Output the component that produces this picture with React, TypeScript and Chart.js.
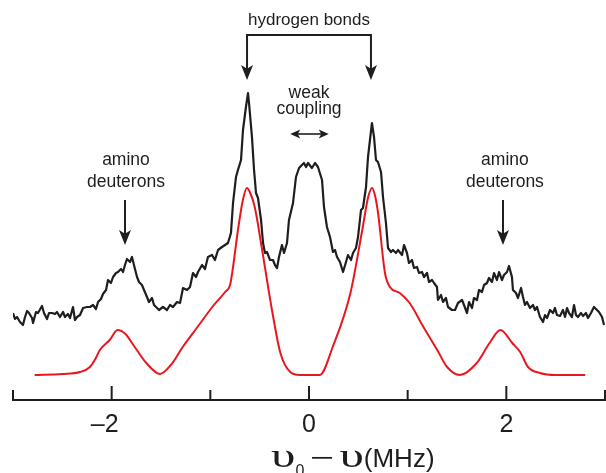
import React, { useEffect, useRef } from "react";
import { Chart, registerables } from "chart.js";

Chart.register(...registerables);

// ---- data (x in MHz, intensity in arbitrary units) ----
const blackX = [
  -3.0, -2.98, -2.959, -2.929, -2.899, -2.878, -2.858, -2.838, -2.807, -2.797, -2.767, -2.747, -2.706, -2.686,
  -2.655, -2.635, -2.605, -2.574, -2.554, -2.524, -2.493, -2.473, -2.443, -2.422, -2.392, -2.372, -2.351, -2.321,
  -2.29, -2.25, -2.22, -2.189, -2.159, -2.138, -2.108, -2.088, -2.057, -2.037, -2.007, -1.986, -1.956, -1.936,
  -1.905, -1.885, -1.865, -1.845, -1.814, -1.794, -1.774, -1.743, -1.723, -1.693, -1.672, -1.642, -1.622, -1.591,
  -1.571, -1.54, -1.52, -1.48, -1.439, -1.409, -1.378, -1.338, -1.307, -1.277, -1.236, -1.206, -1.176, -1.145,
  -1.125, -1.084, -1.054, -1.024, -0.983, -0.953, -0.922, -0.882, -0.851, -0.821, -0.791, -0.77, -0.74, -0.72,
  -0.689, -0.669, -0.639, -0.618, -0.608, -0.578, -0.557, -0.537, -0.517, -0.486, -0.466, -0.446, -0.426, -0.395,
  -0.365, -0.345, -0.324, -0.304, -0.274, -0.253, -0.223, -0.203, -0.162, -0.132, -0.101, -0.071, -0.051, -0.03,
  -0.01, 0.03, 0.061, 0.091, 0.132, 0.152, 0.182, 0.213, 0.243, 0.264, 0.284, 0.314, 0.345, 0.375, 0.395, 0.426,
  0.446, 0.476, 0.497, 0.527, 0.547, 0.578, 0.598, 0.638, 0.659, 0.679, 0.699, 0.73, 0.75, 0.78, 0.801, 0.831,
  0.851, 0.882, 0.902, 0.943, 0.963, 0.993, 1.013, 1.044, 1.064, 1.095, 1.115, 1.145, 1.166, 1.196, 1.216, 1.247,
  1.267, 1.297, 1.307, 1.338, 1.358, 1.388, 1.409, 1.449, 1.48, 1.51, 1.551, 1.571, 1.601, 1.622, 1.652, 1.672,
  1.703, 1.723, 1.753, 1.774, 1.804, 1.824, 1.855, 1.875, 1.905, 1.926, 1.956, 1.976, 2.007, 2.027, 2.057, 2.067,
  2.098, 2.118, 2.149, 2.169, 2.189, 2.209, 2.24, 2.27, 2.29, 2.311, 2.341, 2.372, 2.392, 2.412, 2.443, 2.473,
  2.493, 2.513, 2.544, 2.574, 2.595, 2.615, 2.635, 2.665, 2.686, 2.706, 2.726, 2.757, 2.777, 2.807, 2.828, 2.858,
  2.888, 2.919, 2.939, 2.97, 2.99,
];
const blackY = [
  87, 81, 83, 78, 75, 83, 89, 87, 82, 77, 88, 87, 94, 87,
  81, 87, 87, 86, 88, 83, 88, 83, 86, 82, 93, 80, 83, 85,
  92, 93, 93, 95, 91, 98, 101, 106, 110, 120, 117, 123, 127, 128,
  131, 128, 135, 141, 138, 143, 135, 123, 118, 115, 110, 103, 98, 102,
  95, 92, 90, 93, 90, 95, 93, 98, 97, 112, 110, 113, 127, 123,
  128, 135, 131, 143, 145, 140, 150, 153, 155, 157, 167, 197, 223, 230,
  240, 270, 293, 307, 297, 263, 230, 207, 202, 180, 157, 147, 148, 140,
  140, 135, 132, 143, 155, 147, 157, 180, 197, 223, 232, 235, 237, 233,
  237, 232, 237, 233, 220, 193, 173, 163, 148, 150, 143, 138, 128, 138, 145, 140,
  147, 152, 163, 190, 192, 213, 243, 277, 263, 240, 238, 228, 203, 177, 152, 148,
  150, 147, 150, 145, 155, 147, 137, 140, 132, 133, 127, 128, 123, 127, 118, 120,
  117, 113, 100, 105, 98, 102, 93, 90, 90, 97, 100, 95, 87, 98, 92, 102,
  100, 110, 108, 115, 117, 122, 118, 127, 120, 128, 120, 125, 128, 134, 123, 110,
  107, 102, 112, 103, 95, 98, 92, 95, 90, 93, 83, 78, 85, 82, 90, 87,
  92, 85, 84, 90, 83, 92, 87, 83, 95, 85, 83, 87, 84, 87, 82, 87,
  93, 90, 88, 83, 75,
];

const redX = [
  -2.78, -2.5, -2.32, -2.22, -2.16, -2.12, -2.02, -1.94, -1.86, -1.78, -1.64, -1.51, -1.4, -1.28, -1.13, -0.98,
  -0.85, -0.8, -0.77, -0.72, -0.67, -0.63, -0.6, -0.55, -0.47, -0.37, -0.29, -0.19, -0.09, 0.11, 0.24, 0.42,
  0.54, 0.6, 0.64, 0.67, 0.7, 0.77, 0.82, 0.92, 1.02, 1.16, 1.3, 1.4, 1.53, 1.7, 1.83, 1.94, 2.06, 2.14,
  2.22, 2.34, 2.5, 2.8,
];
const redY = [
  25, 26, 28, 33, 42, 50, 60, 70, 66, 55, 36, 26, 35, 53, 73, 93,
  108, 115, 133, 170, 200, 212, 208, 193, 147, 87, 47, 28, 25, 25, 53, 107,
  170, 203, 212, 204, 187, 127, 113, 107, 97, 73, 50, 33, 25, 37, 57, 70, 57, 48,
  33, 27, 25, 25,
];

const MAJOR_TICKS = [-2, 0, 2];
const MINOR_TICKS = [-3, -1, 1, 3];
const TICK_LABELS = ["\u20132", "0", "2"];

const SANS = "'Liberation Sans', Arial, sans-serif";
const SERIF = "'Liberation Serif', 'Times New Roman', serif";
const INK = "#1e1e1e";

function arrowHead(ctx: CanvasRenderingContext2D, tx: number, ty: number, angle: number, len: number, half: number) {
  ctx.save();
  ctx.translate(tx, ty);
  ctx.rotate(angle);
  ctx.beginPath();
  ctx.moveTo(0, 0);
  ctx.lineTo(-len, -half);
  ctx.lineTo(-len * 0.75, 0);
  ctx.lineTo(-len, half);
  ctx.closePath();
  ctx.fill();
  ctx.restore();
}

const decorPlugin = {
  id: "decor",
  afterDatasetsDraw(chart: any) {
    const ctx: CanvasRenderingContext2D = chart.ctx;
    const xs = chart.scales.x;
    const ys = chart.scales.y;
    const px = (v: number) => xs.getPixelForValue(v);
    const py = (v: number) => ys.getPixelForValue(v);
    ctx.save();
    ctx.strokeStyle = INK;
    ctx.fillStyle = INK;
    ctx.lineWidth = 2;
    ctx.lineCap = "butt";

    // axis line
    const axisY = py(0);
    ctx.beginPath();
    ctx.moveTo(px(-3) - 1, axisY);
    ctx.lineTo(px(3) + 1, axisY);
    ctx.stroke();
    // ticks (inward)
    MAJOR_TICKS.forEach((t) => {
      ctx.beginPath();
      ctx.moveTo(px(t), axisY);
      ctx.lineTo(px(t), axisY - 14);
      ctx.stroke();
    });
    MINOR_TICKS.forEach((t) => {
      ctx.beginPath();
      ctx.moveTo(px(t), axisY);
      ctx.lineTo(px(t), axisY - 10);
      ctx.stroke();
    });
    // tick labels: digits centered on tick, minus hanging left
    ctx.font = `25px ${SANS}`;
    ctx.textBaseline = "alphabetic";
    MAJOR_TICKS.forEach((t, i) => {
      const lab = TICK_LABELS[i];
      const neg = lab.startsWith("\u2013");
      const digits = neg ? lab.slice(1) : lab;
      const w = ctx.measureText(digits).width;
      const x = px(t);
      ctx.textAlign = "center";
      ctx.fillText(digits, x, axisY + 32);
      if (neg) {
        ctx.textAlign = "right";
        ctx.fillText("\u2013", x - w / 2, axisY + 32);
      }
    });

    // axis title: υ0 − υ(MHz)
    const parts = [
      { t: "\u03c5", f: `34px ${SERIF}`, dy: 0, sx: 1.45, sy: 1.0, gap: 0 },
      { t: "0", f: `16px ${SANS}`, dy: 9, sx: 1, sy: 1, gap: 6 },
      { t: "\u2212", f: `25px ${SANS}`, dy: -1, sx: 1.65, sy: 1, gap: 5 },
      { t: "\u03c5", f: `34px ${SERIF}`, dy: 0, sx: 1.45, sy: 1.0, gap: 0 },
      { t: "(MHz)", f: `26px ${SANS}`, dy: 0, sx: 1, sy: 1, gap: 0 },
    ];
    let cx = px(0) - 38;
    const baseY = axisY + 67;
    ctx.textAlign = "left";
    parts.forEach((p) => {
      ctx.font = p.f;
      const w = ctx.measureText(p.t).width * p.sx;
      ctx.save();
      ctx.translate(cx, baseY + p.dy);
      ctx.scale(p.sx, p.sy);
      ctx.fillText(p.t, 0, 0);
      ctx.restore();
      cx += w + p.gap;
    });

    // annotations
    ctx.font = `17px ${SANS}`;
    ctx.textAlign = "center";
    ctx.fillText("hydrogen bonds", px(0), py(375));
    // bracket
    const hbL = -0.628, hbR = 0.628;
    ctx.beginPath();
    ctx.moveTo(px(hbL), py(320) - 8);
    ctx.lineTo(px(hbL), py(365));
    ctx.lineTo(px(hbR), py(365));
    ctx.lineTo(px(hbR), py(320) - 8);
    ctx.stroke();
    arrowHead(ctx, px(hbL), py(320), Math.PI / 2, 15, 6);
    arrowHead(ctx, px(hbR), py(320), Math.PI / 2, 15, 6);

    ctx.font = `17.5px ${SANS}`;
    ctx.fillText("weak", px(0), py(302));
    ctx.fillText("coupling", px(0), py(286));
    // double arrow
    const daY = py(266);
    ctx.lineWidth = 1.6;
    ctx.beginPath();
    ctx.moveTo(px(-0.19) + 5, daY);
    ctx.lineTo(px(0.2) - 5, daY);
    ctx.stroke();
    arrowHead(ctx, px(-0.19), daY, Math.PI, 10, 4.5);
    arrowHead(ctx, px(0.2), daY, 0, 10, 4.5);

    // amino deuterons
    ctx.lineWidth = 2;
    ctx.font = `17.5px ${SANS}`;
    const amino = [
      { tx: -1.855, ax: -1.865 },
      { tx: 1.986, ax: 1.966 },
    ];
    amino.forEach((a) => {
      ctx.fillText("amino", px(a.tx), py(235));
      ctx.fillText("deuterons", px(a.tx), py(213));
      ctx.beginPath();
      ctx.moveTo(px(a.ax), py(200));
      ctx.lineTo(px(a.ax), py(155) - 8);
      ctx.stroke();
      arrowHead(ctx, px(a.ax), py(155), Math.PI / 2, 15, 6);
    });
    ctx.restore();
  },
};

export default function App() {
  const ref = useRef<HTMLCanvasElement | null>(null);
  useEffect(() => {
    if (!ref.current) return;
    const chart = new Chart(ref.current, {
      type: "line",
      data: {
        datasets: [
          {
            label: "simulation",
            data: redX.map((x, i) => ({ x, y: redY[i] })),
            borderColor: "#e8171f",
            borderWidth: 2,
            pointRadius: 0,
            cubicInterpolationMode: "monotone",
            fill: false,
          },
          {
            label: "experiment",
            data: blackX.map((x, i) => ({ x, y: blackY[i] })),
            borderColor: INK,
            borderWidth: 2.2,
            pointRadius: 0,
            tension: 0,
            borderJoinStyle: "round",
            fill: false,
          },
        ],
      },
      options: {
        animation: false,
        responsive: false,
        maintainAspectRatio: false,
        devicePixelRatio: 1,
        layout: { padding: { left: 13, right: 1, top: 0, bottom: 73 } },
        plugins: { legend: { display: false }, tooltip: { enabled: false }, title: { display: false } },
        scales: {
          x: { type: "linear", min: -3, max: 3, display: false },
          y: { type: "linear", min: 0, max: 400, display: false },
        },
      } as any,
      plugins: [decorPlugin],
    });
    return () => chart.destroy();
  }, []);
  return (
    <div style={{ position: "fixed", left: 0, top: 0, width: 606, height: 473, background: "#fff" }}>
      <canvas ref={ref} width={606} height={473} style={{ display: "block" }} />
    </div>
  );
}
